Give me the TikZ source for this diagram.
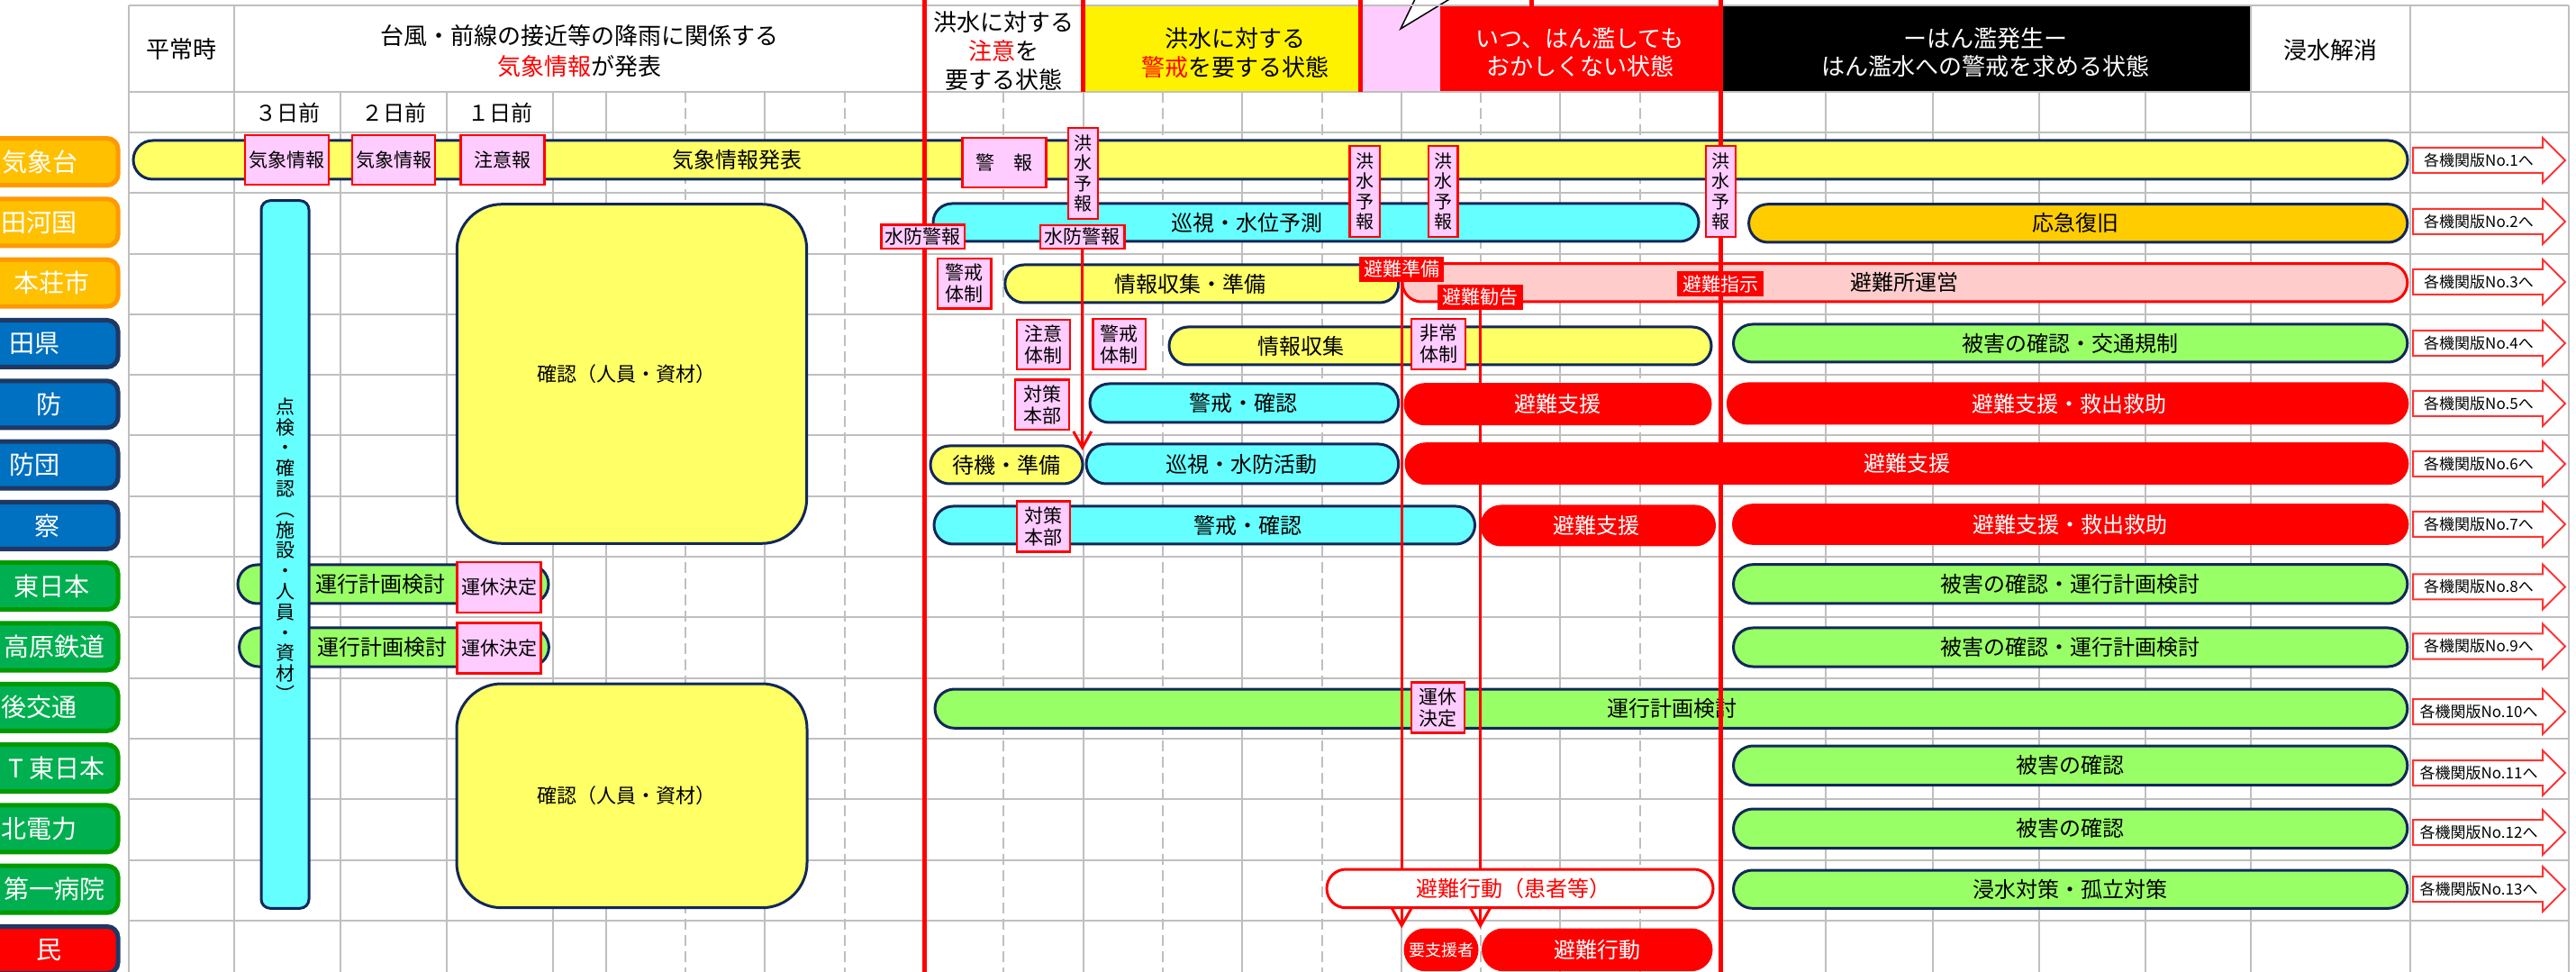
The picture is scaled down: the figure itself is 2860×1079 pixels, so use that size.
\documentclass[tikz,border=0pt]{standalone}
\usepackage{fontspec}
\setmainfont{Noto Sans CJK JP}
\usetikzlibrary{shapes.misc,arrows.meta}
\definecolor{gridgray}{HTML}{BFBFBF}
\definecolor{navyB}{HTML}{12285A}
\definecolor{barYellow}{HTML}{FFFF66}
\definecolor{barCyan}{HTML}{66FFFF}
\definecolor{barGreen}{HTML}{99FF66}
\definecolor{barOrange}{HTML}{FFCC00}
\definecolor{tagPink}{HTML}{FFCCFF}
\definecolor{shelterPink}{HTML}{FFCCCC}
\definecolor{lblOrange}{HTML}{FFC000}
\definecolor{lblOrangeB}{HTML}{FF9900}
\definecolor{lblBlue}{HTML}{0070C0}
\definecolor{lblBlueB}{HTML}{1F3864}
\definecolor{lblGreen}{HTML}{00B050}
\definecolor{lblGreenB}{HTML}{009A00}
\definecolor{arrRed}{HTML}{FF3333}
\newcommand{\fsz}[2]{\fontsize{#1pt}{#2pt}\selectfont}
\newcommand{\mybox}[7]{%
  \pgfmathsetmacro\mbw{((#5)-(#3))*0.5}%
  \pgfmathsetmacro\mbh{((#6)-(#4))*0.5}%
  \pgfmathsetmacro\mbx{((#3)+(#5))/2}%
  \pgfmathsetmacro\mby{((#4)+(#6))/2}%
  \node[#2, minimum width=\mbw pt, minimum height=\mbh pt] (#1) at (\mbx,\mby) {#7};}
\newcommand{\mybar}[9]{%
  \mybox{#1}{#2}{#3}{#4}{#5}{#6}{}%
  \node[bartext, text=#8] (#1-t) at (#7,\mby) {#9};}
\newcommand{\kakuarrow}[3]{%
  \draw[arrowshape] (2679,#2-14) -- (2823,#2-14) -- (2823,#2-25) -- (2848,#2) -- (2823,#2+25) -- (2823,#2+14) -- (2679,#2+14) -- cycle;
  \node[arrtext] (#1) at (2752,#2) {#3};}
\begin{document}
\begin{tikzpicture}[x=0.5pt,y=-0.5pt,
  gridline/.style={draw=gridgray,line width=1pt},
  griddash/.style={draw=gridgray,line width=1pt,dash pattern=on 6pt off 3pt},
  pill/.style={rounded rectangle,draw=navyB,line width=1.5pt,inner sep=0pt},
  ybar/.style={pill,fill=barYellow},
  cbar/.style={pill,fill=barCyan},
  gbar/.style={pill,fill=barGreen},
  obar/.style={pill,fill=barOrange},
  rbar/.style={pill,fill=red,draw=red},
  sbar/.style={pill,fill=shelterPink,draw=red},
  wbar/.style={pill,fill=white,draw=red},
  bigbox/.style={rectangle,rounded corners=25pt,fill=barYellow,draw=navyB,line width=1.5pt,inner sep=0pt},
  vbarbox/.style={rectangle,rounded corners=5pt,fill=barCyan,draw=navyB,line width=1.5pt,inner sep=0pt},
  bartext/.style={inner sep=0pt,font=\fsz{12}{14}},
  pinktag/.style={rectangle,fill=tagPink,draw=red,line width=1.25pt,inner sep=0pt,align=center,font=\fsz{10.5}{12}},
  vtag/.style={pinktag,font=\fsz{10}{11.25}},
  redtag/.style={rectangle,fill=red,draw=red,line width=1pt,inner sep=0pt,text=white,font=\fsz{10.5}{12}},
  lblbase/.style={rectangle,rounded corners=6pt,line width=2.5pt,inner sep=0pt},
  lblO/.style={lblbase,fill=lblOrange,draw=lblOrangeB},
  lblB/.style={lblbase,fill=lblBlue,draw=lblBlueB},
  lblG/.style={lblbase,fill=lblGreen,draw=lblGreenB},
  lblR/.style={lblbase,fill=red,draw=lblBlueB},
  lbltext/.style={inner sep=0pt,text=white,font=\fsz{14}{16},anchor=east},
  hdrtext/.style={inner sep=0pt,align=center,font=\fsz{13}{16}},
  arrowshape/.style={draw=arrRed,fill=white,line width=1pt},
  arrtext/.style={inner sep=0pt,font=\fsz{8.5}{10}},
  redline/.style={draw=red,line width=1.5pt},
  thickred/.style={draw=red,line width=2.5pt},
]
\useasboundingbox (0,0) rectangle (2860,1079);
\clip (0,0) rectangle (2860,1079);
\fill[white] (0,0) rectangle (2860,1079);

% header fills
\fill[yellow] (1202.6,6) rectangle (1510,102);
\fill[tagPink] (1510,6) rectangle (1599,102);
\fill[red] (1599,6) rectangle (1910,102);
\fill[black] (1910,6) rectangle (2499,102);
\filldraw[fill=white,draw=black,line width=0.75pt] (1573,-5) -- (1555,32) -- (1616,-5);

% grid
\foreach \yy in {6,102,147,214.3,281.6,348.9,416.2,483.5,550.8,618.1,685.4,752.7,820.0,887.3,954.6,1021.9}
  \draw[gridline] (142.9,\yy) -- (2852,\yy);
\foreach \xx in {378.1,496,613.8,672.8,849.4,1202.6,1379.2,1555.8,1732.4,2027.3,2145.6,2263.9,2382.2}
  \draw[gridline] (\xx,102) -- (\xx,1079);
\foreach \xx in {761.1,937.7,1114.3,1290.9,1467.5,1644.1,1820.7}
  \draw[griddash] (\xx,102) -- (\xx,1079);
\foreach \xx in {142.9,260.3,2499,2676,2852}
  \draw[gridline] (\xx,6) -- (\xx,1079);

% header texts
\node[hdrtext] (h1) at (201.6,55) {平常時};
\node[hdrtext,font=\fsz{13}{17}] (h2) at (643,57) {台風・前線の接近等の降雨に関係する\\{\color{red}気象情報}が発表};
\node[hdrtext,font=\fsz{13}{16}] (h3) at (1114,57) {洪水に対する\\{\color{red}注意}を\\要する状態};
\node[hdrtext] (h4) at (1371,59) {洪水に対する\\{\color{red}警戒}を要する状態};
\node[hdrtext,text=white,font=\fsz{13}{15.5}] (h5) at (1754,58) {いつ、はん濫しても\\おかしくない状態};
\node[hdrtext,text=white,font=\fsz{13}{15.5}] (h6) at (2204,58) {ーはん濫発生ー\\はん濫水への警戒を求める状態};
\node[hdrtext] (h7) at (2587,56) {浸水解消};
\node[hdrtext,font=\fsz{12}{14}] (d3) at (319.2,125) {３日前};
\node[hdrtext,font=\fsz{12}{14}] (d2) at (437,125) {２日前};
\node[hdrtext,font=\fsz{12}{14}] (d1) at (555,125) {１日前};

% bars
\mybar{bkisho}{ybar}{148}{156}{2673}{199}{818}{black}{気象情報発表}
\mybar{kak1}{bigbox}{507.3}{226.7}{895.7}{603.3}{695}{black}{\fsz{11}{13}確認（人員・資材）}
\mybar{kak2}{bigbox}{507}{759}{896}{1007.7}{695}{black}{\fsz{11}{13}確認（人員・資材）}
\mybar{junshi1}{cbar}{1036}{226}{1886}{268}{1384}{black}{巡視・水位予測}
\mybar{oukyu}{obar}{1941.6}{226.7}{2672.8}{269}{2304}{black}{応急復旧}
\mybar{joho1}{ybar}{1115.8}{294}{1552.7}{336}{1321}{black}{情報収集・準備}
\mybar{hinanjo}{sbar}{1557}{292.7}{2672.8}{335}{2114}{black}{避難所運営}
\mybar{joho2}{ybar}{1298}{363}{1900}{405}{1444}{black}{情報収集}
\mybar{higai1}{gbar}{1924.5}{360}{2672.8}{402}{2298}{black}{被害の確認・交通規制}
\mybar{keikai1}{cbar}{1210}{426}{1552.7}{469}{1380.5}{black}{警戒・確認}
\mybar{shien1}{rbar}{1560}{426.7}{1899}{470.7}{1729}{white}{避難支援}
\mybar{kyu1}{rbar}{1918.4}{426}{2672.8}{470}{2297}{white}{避難支援・救出救助}
\mybar{taiki}{ybar}{1033}{495}{1202}{537}{1117}{black}{待機・準備}
\mybar{junshi2}{cbar}{1206}{493}{1552.7}{537}{1378.6}{black}{巡視・水防活動}
\mybar{shien2}{rbar}{1561}{492.7}{2672.8}{536.7}{2117}{white}{避難支援}
\mybar{keikai2}{cbar}{1037}{562}{1637.5}{604}{1385}{black}{警戒・確認}
\mybar{shien3}{rbar}{1645}{562}{1903.5}{605}{1772.7}{white}{避難支援}
\mybar{kyu2}{rbar}{1924.5}{560.7}{2672.8}{603.3}{2298}{white}{避難支援・救出救助}
\mybar{unko1}{gbar}{264}{627}{609}{670}{422}{black}{運行計画検討}
\mybar{higai2}{gbar}{1924.5}{626.7}{2672.8}{670}{2298}{black}{被害の確認・運行計画検討}
\mybar{unko2}{gbar}{265.6}{697}{609.4}{740}{424}{black}{運行計画検討}
\mybar{higai3}{gbar}{1924.5}{697}{2672.8}{740}{2298}{black}{被害の確認・運行計画検討}
\mybar{unko3}{gbar}{1038}{765}{2672.8}{808.3}{1856}{black}{運行計画検討}
\mybar{higai4}{gbar}{1924.5}{828}{2672.8}{871.7}{2298}{black}{被害の確認}
\mybar{higai5}{gbar}{1924.5}{898}{2672.8}{941.7}{2298}{black}{被害の確認}
\mybar{shinsui}{gbar}{1924.5}{966}{2672.8}{1008.3}{2298}{black}{浸水対策・孤立対策}
\mybar{youshien}{rbar}{1560}{1032}{1640}{1076.7}{1600}{white}{\fsz{9}{10}要支援者}
\mybar{koudou}{rbar}{1646.5}{1032}{1900}{1076.7}{1773}{white}{避難行動}

% vertical cyan bar
\mybox{tenken}{vbarbox}{290}{222.7}{343}{1008.3}{}
\node[inner sep=0pt,align=center,font=\fsz{10.5}{11.4}] (tenken-t) at (316.5,610) {点\\検\\・\\確\\認\\︵\\施\\設\\・\\人\\員\\・\\資\\材\\︶};

% red lines
\draw[thickred] (1026,0) -- (1026,1079);
\draw[thickred] (1910,0) -- (1910,1079);
\draw[thickred] (1202.6,0) -- (1202.6,102);
\draw[thickred] (1510,0) -- (1510,102);
\draw[thickred] (1700,0) -- (1700,7);

% tags (needed before connectors)
\mybox{tk1}{pinktag}{272}{150}{365}{205}{気象情報}
\mybox{tk2}{pinktag}{391}{150}{483}{205}{気象情報}
\mybox{tchui}{pinktag}{511.5}{150}{604.6}{205}{注意報}
\mybox{tkeiho}{pinktag}{1068.6}{153}{1161.7}{208}{警　報}
\mybox{tkoz1}{vtag}{1186}{142}{1219}{243}{洪\\水\\予\\報}
\mybox{tkoz2}{vtag}{1498.5}{162}{1532}{263}{洪\\水\\予\\報}
\mybox{tkoz3}{vtag}{1586}{162}{1618.4}{263}{洪\\水\\予\\報}
\mybox{tsuibo1}{pinktag}{978.7}{249.3}{1071}{276}{水防警報}
\mybox{tsuibo2}{pinktag}{1155}{250}{1248.5}{276}{水防警報}
\mybox{rjunbi}{redtag}{1510}{286}{1602.4}{311.7}{避難準備}
\mybox{rkankoku}{redtag}{1597.3}{316.7}{1689.8}{342.7}{避難勧告}

\coordinate (suiboEnd) at (1202.6,500);
\draw[redline,-{Straight Barb[length=9pt,width=10pt]}] (tsuibo2.south) -- (tsuibo2.south |- suiboEnd);
\draw[redline,-{Straight Barb[length=11.5pt,width=13pt]}] (rjunbi.south) -- (rjunbi.south |- youshien.north);
\draw[redline,-{Straight Barb[length=11.5pt,width=13pt]}] (rkankoku.south) -- (rkankoku.south |- koudou.north);

\mybar{kanja}{wbar}{1473}{965}{1902}{1007.7}{1680}{red}{避難行動（患者等）}

\mybox{tkoz4}{vtag}{1894}{162}{1927}{263}{洪\\水\\予\\報}
\mybox{rshiji}{redtag}{1863}{302}{1957}{328.3}{避難指示}
\mybox{tkeikai1}{pinktag}{1041}{287}{1100.5}{342.7}{警戒\\体制}
\mybox{tchuitai}{pinktag}{1129}{355}{1188}{410}{注意\\体制}
\mybox{tkeikai2}{pinktag}{1213.4}{354}{1272}{410}{警戒\\体制}
\mybox{thijo}{pinktag}{1567}{354}{1627}{410}{非常\\体制}
\mybox{ttaisaku1}{pinktag}{1127}{421.7}{1187}{477}{対策\\本部}
\mybox{ttaisaku2}{pinktag}{1129}{556.7}{1188}{612.3}{対策\\本部}
\mybox{tunkyu1}{pinktag}{507.6}{624}{600.4}{680}{運休決定}
\mybox{tunkyu2}{pinktag}{507.6}{691.7}{600.4}{747.3}{運休決定}
\mybox{tunkyu3}{pinktag}{1567}{757.7}{1626}{813.3}{運休\\決定}

% row labels
\mybox{lb0}{lblO}{-100}{153.6}{131}{205.6}{}
\mybox{lb1}{lblO}{-100}{220.9}{131}{272.9}{}
\mybox{lb2}{lblO}{-100}{288.2}{131}{340.2}{}
\mybox{lb3}{lblB}{-100}{355.5}{131}{407.5}{}
\mybox{lb4}{lblB}{-100}{422.8}{131}{474.8}{}
\mybox{lb5}{lblB}{-100}{490.1}{131}{542.1}{}
\mybox{lb6}{lblB}{-100}{557.4}{131}{609.4}{}
\mybox{lb7}{lblG}{-100}{624.7}{131}{676.7}{}
\mybox{lb8}{lblG}{-100}{692}{131}{744}{}
\mybox{lb9}{lblG}{-100}{759.3}{131}{811.3}{}
\mybox{lb10}{lblG}{-100}{826.6}{131}{878.6}{}
\mybox{lb11}{lblG}{-100}{893.9}{131}{945.9}{}
\mybox{lb12}{lblG}{-100}{961.2}{131}{1013.2}{}
\mybox{lb13}{lblR}{-100}{1028.5}{131}{1080.5}{}
\node[lbltext,anchor=west] (lt0) at (2,179.6) {気象台};
\node[lbltext] (lt1) at (86,246.9) {田河国};
\node[lbltext] (lt2) at (100,314.2) {本荘市};
\node[lbltext] (lt3) at (67,381.5) {田県};
\node[lbltext] (lt4) at (69,448.8) {防};
\node[lbltext] (lt5) at (67,516.1) {防団};
\node[lbltext] (lt6) at (67,583.4) {察};
\node[lbltext] (lt7) at (100,650.7) {東日本};
\node[lbltext] (lt8) at (117,718) {高原鉄道};
\node[lbltext] (lt9) at (86,785.3) {後交通};
\node[lbltext] (lt10) at (117,852.6) {T 東日本};
\node[lbltext] (lt11) at (86,919.9) {北電力};
\node[lbltext] (lt12) at (117,987.2) {第一病院};
\node[lbltext] (lt13) at (69,1054.5) {民};

% arrows to each agency version
\kakuarrow{an1}{178}{各機関版No.1へ}
\kakuarrow{an2}{246}{各機関版No.2へ}
\kakuarrow{an3}{313}{各機関版No.3へ}
\kakuarrow{an4}{381}{各機関版No.4へ}
\kakuarrow{an5}{448}{各機関版No.5へ}
\kakuarrow{an6}{515}{各機関版No.6へ}
\kakuarrow{an7}{582}{各機関版No.7へ}
\kakuarrow{an8}{651.5}{各機関版No.8へ}
\kakuarrow{an9}{717.5}{各機関版No.9へ}
\kakuarrow{an10}{790}{各機関版No.10へ}
\kakuarrow{an11}{858}{各機関版No.11へ}
\kakuarrow{an12}{924}{各機関版No.12へ}
\kakuarrow{an13}{987}{各機関版No.13へ}
\end{tikzpicture}
\end{document}
